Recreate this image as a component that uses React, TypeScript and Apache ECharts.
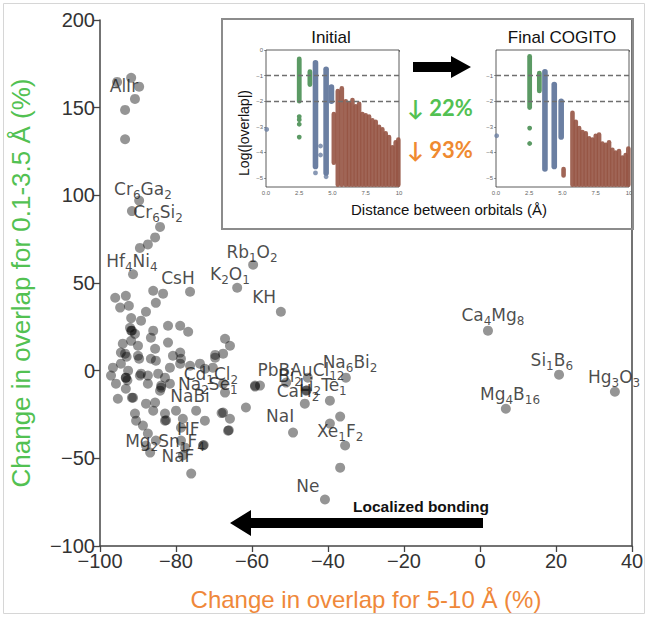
import React, { useEffect, useRef } from "react";
import * as echarts from "echarts";

// ---------- main scatter data (x: change 5-10 Å %, y: change 0.1-3.5 Å %) ----------
const mainX: number[] = [
  -95.5, -91.8, -89.7, -90.8, -93.4, -93.4, -89.7, -91.6, -84.2, -85.5, -87.4, -89.5, -91.3,
  -96, -94.7, -93.2, -92.4, -87.9, -89.2, -86, -85.3, -83.4, -76.3, -91.8, -92.1, -91.6, -90.8,
  -91.8, -94, -90, -86, -86.6, -82.1, -78.9, -76.8, -82.1, -85.5, -93.4, -90, -86.6, -94.5,
  -92.6, -96.6, -97.1, -95.8, -93.2, -89.5, -87.4, -84.7, -84.2, -95.3, -91.3, -85.5, -81.6,
  -78.9, -78.7, -80.8, -78.9, -76.3, -73.7, -72.4, -70.3, -69.7, -67.1, -65.8, -67.6, -69.7,
  -83.9, -83.9, -81.6, -59.2, -59.2, -57.9, -61.6, -85.3, -87.4, -89.2, -94.5, -89.7, -82.9,
  -93.2, -91.6, -87.9, -86, -90.8, -82.9, -82.9, -82.6, -80, -74.7, -72.4, -78.2, -90.5, -88.7,
  -87.4, -85.3, -87.9, -86.8, -78.7, -78.7, -77.6, -72.9, -72.7, -78.2, -76, -67.6, -68, -67.1,
  -67.6, -65.8, -66.3, -66.1, -49.2, -46.1, -39.5, -36.8, -39.5, -35.5, -36.8, -40.8, -59.7,
  -63.9, -52.4, -45.3, -35.3, -51, -45.8, -45.6, 2.1, 20.8, 35.5, 6.8, -93.2, -93.0, -92.8,
  -91.8,
];
const mainY: number[] = [
  164.7, 167, 162, 155, 148.7, 132, 97, 91, 82, 76, 72, 70, 55,
  41.6, 36, 42.7, 37, 33.6, 28.5, 45.6, 38.7, 43.9, 45, 30, 24.5, 22.8, 21,
  17, 15.4, 14.2, 22.8, 18.8, 25.6, 25.6, 22.2, 16, 12.5, 9.7, 8.5, 6.8, 4,
  0, 1.7, -2.8, -7.4, -4, -2.8, -7.4, -1.7, -11.4, -16, -15.4, -18.2, 1.7,
  4, 6.8, 8.5, 10.3, 2.8, 4, 1.1, 1.7, 7.4, 18.2, 14.2, 9.7, 9,
  -8.5, -9.7, -7.4, -8.5, -9.1, -8.5, -21, 5.7, -2.8, -1.7, 10.3, 6.8, -4,
  -10.3, -15.4, -18.8, -22.8, -24.5, -24.5, -28.5, -28.3, -22.8, -22.8, -28.5, -27.4, -28.5, -31.3,
  -35.9, -39.9, -42.7, -46.7, -32.5, -39.9, -43.9, -42.7, -42.4, -48.4, -58.7, -23.9, -24.2, -12.5,
  -7.4, -27.4, -34.2, -34, -35.3, -18.8, -17.1, -26.2, -30.2, -42.7, -55.3, -73.5, 60.4,
  47.3, 33.6, -4, -4, -6.8, -11.4, -11.2, 22.8, -2.3, -12, -21.7, -4, 8, -5.5,
  22.8,
];

// ---------- compound labels (digits are subscripts) ----------
const labelNames: string[] = [
  "AlIr", "Cr6Ga2", "Cr6Si2", "Hf4Ni4", "CsH", "K2O1", "Rb1O2", "KH", "Cd1Cl2", "Na2Se1",
  "NaBi", "PbBAuCl12", "Bi2", "CaH2", "Li2Te1", "Na6Bi2", "NaI", "Xe1F2", "Ne", "HF",
  "Mg2Sn1F4", "NaF", "Ca4Mg8", "Si1B6", "Hg3O3", "Mg4B16",
];
const labelX: number[] = [
  -93.7, -88.7, -84.7, -91.6, -79.5, -65.8, -60, -56.8, -70.8, -71.6,
  -76.3, -47.1, -50, -47.9, -41.3, -34.2, -52.6, -36.8, -45.3, -76.8,
  -82.9, -79.5, 3.4, 18.9, 35.3, 7.9,
];
const labelY: number[] = [
  161.3, 102.6, 89.5, 61.5, 51.9, 54.1, 66.7, 41, -2.8, -8.5,
  -15.4, -0.6, -4, -12.5, -9.1, 4, -26.8, -35.3, -66.7, -34.2,
  -41, -49.6, 30.8, 5.1, -4.6, -14.2,
];

// ---------- main axes ----------
const xTicks = { min: -100, max: 40, interval: 20 };
const yTicks = { min: -100, max: 200, interval: 50 };

// ---------- inset: columns [x, top, bottom] of log(|overlap|) dots ----------
const greenColsInitial: number[][] = [[2.5, -0.35, -2.0], [3.3, -0.85, -1.35]];
const greenPtsInitial: number[][] = [[2.5, -2.6], [2.5, -2.72], [2.5, -2.9], [2.5, -3.4]];
const blueColsInitial: number[][] = [[3.72, -0.5, -4.55], [4.52, -0.75, -4.8], [4.92, -1.45, -2.0]];
const bluePtsInitial: number[][] = [[0.05, -3.1], [4.1, -3.75], [4.1, -4.1], [4.52, -4.95], [3.72, -4.8]];
const brownColsInitial: number[][] = [
  [5.1, -2.5, -4.4], [5.4, -1.6, -5.35], [5.7, -1.5, -5.35], [6.0, -2.0, -5.35], [6.25, -2.1, -5.35],
  [6.5, -1.95, -5.35], [6.75, -2.2, -5.35], [7.0, -2.1, -5.35], [7.25, -2.5, -5.35], [7.5, -2.55, -5.35],
  [7.75, -2.6, -5.35], [8.0, -2.75, -5.35], [8.25, -2.8, -5.35], [8.5, -3.0, -5.35], [8.75, -3.1, -5.35],
  [9.0, -3.25, -5.35], [9.25, -3.4, -5.35], [9.5, -3.8, -5.35], [9.75, -3.6, -5.35], [9.95, -3.5, -5.35],
];
const greenColsFinal: number[][] = [[2.53, -0.25, -2.25], [3.26, -0.9, -1.6]];
const greenPtsFinal: number[][] = [[2.53, -3.05], [2.53, -3.65]];
const blueColsFinal: number[][] = [[3.68, -0.85, -4.65], [4.38, -1.35, -4.55], [4.9, -2.0, -3.4]];
const bluePtsFinal: number[][] = [[0.05, -3.35]];
const brownColsFinal: number[][] = [
  [5.08, -4.65, -4.9], [5.75, -2.45, -5.35], [6.0, -2.8, -5.35], [6.25, -3.05, -5.35], [6.5, -3.2, -5.35],
  [6.75, -3.25, -5.35], [7.0, -3.45, -5.35], [7.25, -3.5, -5.35], [7.5, -3.35, -5.35], [7.75, -3.3, -5.35],
  [8.0, -3.65, -5.35], [8.25, -3.7, -5.35], [8.5, -3.6, -5.35], [8.75, -3.9, -5.35], [9.0, -4.0, -5.35],
  [9.25, -3.95, -5.35], [9.5, -4.2, -5.35], [9.75, -4.1, -5.35], [9.95, -3.85, -5.35],
];
const insetYTicks: number[] = [-1, -2, -3, -4, -5];
const insetXTicks: number[] = [0, 2.5, 5, 7.5, 10];
const insetThresholds: number[] = [-1, -2];
const insetBands: number[][] = [[0.3, 3.5], [5.0, 10]];
const insetChanges: string[] = ["22%", "93%"];

const GREEN_DOT = "#5b9a64";
const BLUE_DOT = "#6b7fa2";
const BROWN_DOT = "rgba(150,84,68,0.9)";

const minus = (v: number | string) => String(v).replace("-", "\u2212");

function toRich(name: string): string {
  const parts = name.match(/\d+|\D+/g) || [];
  return parts.map((p) => (/^\d+$/.test(p) ? `{s|${p}}` : `{n|${p}}`)).join("");
}

function columnSeries(data: number[][], idx: number, color: string, w: number) {
  return {
    type: "custom",
    xAxisIndex: idx,
    yAxisIndex: idx + 1,
    z: 4,
    silent: true,
    encode: { x: 0, y: [1, 2] },
    data,
    renderItem: (params: any, api: any) => {
      const x = api.value(0);
      const top = api.value(1);
      const bot = api.value(2);
      const p1 = api.coord([x, top]);
      const p2 = api.coord([x, bot]);
      const toBottom = bot <= -5.3;
      return {
        type: "rect",
        shape: {
          x: p1[0] - w / 2,
          y: p1[1] - w / 2,
          width: w,
          height: p2[1] - p1[1] + (toBottom ? w / 2 : w),
          r: w / 2,
        },
        style: { fill: color },
      };
    },
  };
}

function insetAxes(gridIndex: number, showZero: boolean) {
  const x = {
    type: "value",
    gridIndex,
    min: 0,
    max: 10,
    axisLine: { show: false },
    splitLine: { show: false },
    axisTick: { show: true, length: 2, customValues: insetXTicks, lineStyle: { color: "#555", width: 0.6 } },
    axisLabel: {
      show: true,
      customValues: insetXTicks,
      fontSize: 6,
      color: "#666",
      margin: 3,
      formatter: (v: number) => (v === 10 ? "10" : v.toFixed(1)),
    },
  };
  const yVals = showZero ? [0, ...insetYTicks] : insetYTicks;
  const y = {
    type: "value",
    gridIndex,
    min: -5.35,
    max: 0,
    axisLine: { show: false },
    splitLine: { show: false },
    axisTick: { show: true, length: 2, customValues: yVals, lineStyle: { color: "#555", width: 0.6 } },
    axisLabel: {
      show: true,
      customValues: yVals,
      fontSize: 6,
      color: "#666",
      margin: 3,
      formatter: (v: number) => minus(v),
    },
  };
  return { x, y };
}

function bandSeries(idx: number, pts: number[][], color: string) {
  return {
    type: "scatter",
    xAxisIndex: idx,
    yAxisIndex: idx + 1,
    z: 4,
    silent: true,
    symbolSize: 4.8,
    itemStyle: { color, opacity: 1 },
    data: pts,
    markArea: {
      silent: true,
      z: 1,
      data: [
        [{ xAxis: insetBands[0][0], itemStyle: { color: "#a9d7a1" } }, { xAxis: insetBands[0][1] }],
        [{ xAxis: insetBands[1][0], itemStyle: { color: "#f5bd9f" } }, { xAxis: insetBands[1][1] }],
      ],
    },
    markLine: {
      silent: true,
      symbol: "none",
      z: 6,
      label: { show: false },
      lineStyle: { type: [5, 3], color: "#6f6f6f", width: 1.4 },
      data: insetThresholds.map((v) => ({ yAxis: v })),
    },
  };
}

export default function App() {
  const ref = useRef<HTMLDivElement>(null);

  useEffect(() => {
    if (!ref.current) return;
    const chart = echarts.init(ref.current, undefined, { renderer: "svg" });

    const mainPts = mainX.map((x, i) => [x, mainY[i]]);
    const labelData = labelNames.map((n, i) => ({ name: n, value: [labelX[i], labelY[i]] }));
    const a1 = insetAxes(1, true);
    const a2 = insetAxes(2, false);

    const tickFont = { fontFamily: "Liberation Sans", fontSize: 20, color: "#333" };

    const option: any = {
      animation: false,
      backgroundColor: "#ffffff",
      grid: [
        { left: 100, top: 20, width: 532, height: 526 },
        { left: 266, top: 50, width: 133, height: 137, show: true, borderColor: "#333", borderWidth: 0.8, backgroundColor: "#fff", z: 3 },
        { left: 496, top: 50, width: 133, height: 137, show: true, borderColor: "#333", borderWidth: 0.8, backgroundColor: "#fff", z: 3 },
      ],
      xAxis: [
        {
          type: "value",
          gridIndex: 0,
          min: xTicks.min,
          max: xTicks.max,
          interval: xTicks.interval,
          axisLine: { show: true, onZero: false, lineStyle: { color: "#444", width: 1.5 } },
          axisTick: { show: true, length: 6, lineStyle: { color: "#444", width: 1.3 } },
          splitLine: { show: false },
          axisLabel: { ...tickFont, margin: 5, formatter: (v: number) => minus(v) },
          name: "Change in overlap for 5-10 Å (%)",
          nameLocation: "middle",
          nameGap: 41,
          nameTextStyle: { fontFamily: "Liberation Sans", fontSize: 24, color: "#ef883a" },
        },
        a1.x,
        a2.x,
      ],
      yAxis: [
        {
          type: "value",
          gridIndex: 0,
          min: yTicks.min,
          max: yTicks.max,
          interval: yTicks.interval,
          axisLine: { show: true, onZero: false, lineStyle: { color: "#444", width: 1.5 } },
          axisTick: { show: true, length: 6, lineStyle: { color: "#444", width: 1.3 } },
          splitLine: { show: false },
          axisLabel: { ...tickFont, margin: 5, formatter: (v: number) => minus(v) },
          name: "Change in overlap for 0.1-3.5 Å (%)",
          nameLocation: "middle",
          nameGap: 66,
          nameTextStyle: { fontFamily: "Liberation Sans", fontSize: 26, color: "#52c152" },
        },
        {
          type: "value",
          gridIndex: 0,
          position: "right",
          min: yTicks.min,
          max: yTicks.max,
          axisLine: { show: true, onZero: false, lineStyle: { color: "#444", width: 1.5 } },
          axisTick: { show: false },
          axisLabel: { show: false },
          splitLine: { show: false },
        },
        a1.y,
        a2.y,
      ],
      series: [
        {
          type: "scatter",
          xAxisIndex: 0,
          yAxisIndex: 0,
          symbolSize: 10,
          itemStyle: { color: "rgba(0,0,0,0.52)" },
          data: mainPts,
          z: 2,
        },
        {
          type: "scatter",
          xAxisIndex: 0,
          yAxisIndex: 0,
          symbolSize: 1,
          itemStyle: { color: "rgba(0,0,0,0)" },
          data: labelData,
          z: 5,
          silent: true,
          label: {
            show: true,
            position: "inside",
            formatter: (p: any) => toRich(p.name),
            rich: {
              n: { fontFamily: "DejaVu Sans", fontSize: 17, color: "#1c1c1c", lineHeight: 20, verticalAlign: "top" },
              s: { fontFamily: "DejaVu Sans", fontSize: 12, color: "#1c1c1c", lineHeight: 13, padding: [10, 0, 0, 0], verticalAlign: "bottom" },
            },
          },
        },
        bandSeries(1, [...greenPtsInitial], GREEN_DOT),
        {
          type: "scatter",
          xAxisIndex: 1,
          yAxisIndex: 2,
          z: 4,
          silent: true,
          symbolSize: 4.8,
          itemStyle: { color: BLUE_DOT },
          data: bluePtsInitial,
        },
        columnSeries(greenColsInitial, 1, GREEN_DOT, 4.8),
        columnSeries(blueColsInitial, 1, BLUE_DOT, 5.6),
        columnSeries(brownColsInitial, 1, BROWN_DOT, 4.6),
        bandSeries(2, [...greenPtsFinal], GREEN_DOT),
        {
          type: "scatter",
          xAxisIndex: 2,
          yAxisIndex: 3,
          z: 4,
          silent: true,
          symbolSize: 4.8,
          itemStyle: { color: BLUE_DOT },
          data: bluePtsFinal,
        },
        columnSeries(greenColsFinal, 2, GREEN_DOT, 4.8),
        columnSeries(blueColsFinal, 2, BLUE_DOT, 5.6),
        columnSeries(brownColsFinal, 2, BROWN_DOT, 4.6),
      ],
      graphic: [
        // outer frame of the figure
        { type: "rect", silent: true, z: 0, shape: { x: 3.5, y: 3.5, width: 641, height: 610 }, style: { fill: "none", stroke: "#d6d6d6", lineWidth: 1 } },
        // inset frame
        { type: "rect", silent: true, z: 10, shape: { x: 222, y: 19, width: 411, height: 210 }, style: { fill: "none", stroke: "#8c8c8c", lineWidth: 2 } },
        { type: "text", silent: true, z: 10, x: 331, y: 37, style: { text: "Initial", fontFamily: "Liberation Sans", fontSize: 17, fill: "#111", align: "center", verticalAlign: "middle" } },
        { type: "text", silent: true, z: 10, x: 562, y: 37, style: { text: "Final COGITO", fontFamily: "Liberation Sans", fontSize: 17, fill: "#111", align: "center", verticalAlign: "middle" } },
        { type: "text", silent: true, z: 10, x: 244, y: 133, rotation: Math.PI / 2, style: { text: "Log(|overlap|)", fontFamily: "Liberation Sans", fontSize: 14, fill: "#111", align: "center", verticalAlign: "middle" } },
        { type: "text", silent: true, z: 10, x: 449, y: 209, style: { text: "Distance between orbitals (Å)", fontFamily: "Liberation Sans", fontSize: 15, fill: "#111", align: "center", verticalAlign: "middle" } },
        { type: "polygon", silent: true, z: 10, shape: { points: [[413, 62], [451, 62], [451, 56], [471, 67], [451, 78], [451, 72], [413, 72]] }, style: { fill: "#000" } },
        { type: "text", silent: true, z: 10, x: 440, y: 107, style: { text: "\u2193 " + insetChanges[0], fontFamily: "Lato", fontWeight: "bold", fontSize: 22, fill: "#52c152", align: "center", verticalAlign: "middle" } },
        { type: "text", silent: true, z: 10, x: 440, y: 149, style: { text: "\u2193 " + insetChanges[1], fontFamily: "Lato", fontWeight: "bold", fontSize: 22, fill: "#ef8a30", align: "center", verticalAlign: "middle" } },
        // localized bonding arrow
        { type: "polygon", silent: true, z: 10, shape: { points: [[483, 518], [251, 518], [251, 510], [230, 523], [251, 536], [251, 528], [483, 528]] }, style: { fill: "#000" } },
        { type: "text", silent: true, z: 10, x: 421, y: 506, style: { text: "Localized bonding", fontFamily: "Liberation Sans", fontWeight: "bold", fontSize: 15.5, fill: "#111", align: "center", verticalAlign: "middle" } },
      ],
    };

    chart.setOption(option);
    return () => chart.dispose();
  }, []);

  return (
    <div
      ref={ref}
      style={{ position: "fixed", left: 0, top: 0, width: 649, height: 620, background: "#fff" }}
    />
  );
}
